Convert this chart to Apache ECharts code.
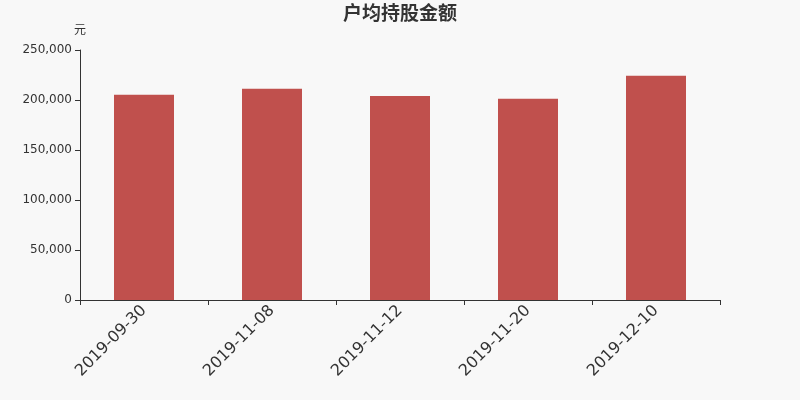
<!DOCTYPE html>
<html>
<head>
<meta charset="utf-8">
<script src="https://cdn.jsdelivr.net/npm/echarts@6/dist/echarts.min.js"></script>
<style>
html, body { margin: 0; padding: 0; background: #f8f8f8; }
#main { width: 800px; height: 400px; }
</style>
</head>
<body>
<div id="main"></div>
<script>
var titleText = '户均持股金额';
var unitName = '元';
var categories = ['2019-09-30', '2019-11-08', '2019-11-12', '2019-11-20', '2019-12-10'];
var values = [205300, 211300, 204000, 201300, 224300];

var myChart = echarts.init(document.getElementById('main'));

var option = {
    backgroundColor: '#f8f8f8',
    title: {
        text: titleText,
        left: 'center',
        top: 0,
        padding: [3, 5],
        textStyle: {
            color: '#333',
            fontSize: 19,
            fontWeight: 'bold',
            fontFamily: 'Noto Sans CJK SC'
        }
    },
    grid: {
        top: 50,
        bottom: 100,
        left: 80,
        right: 80
    },
    xAxis: {
        type: 'category',
        data: categories,
        axisLabel: {
            rotate: 45,
            color: '#333',
            fontSize: 16,
            fontFamily: 'DejaVu Sans',
            interval: 0
        },
        axisLine: {
            lineStyle: { color: '#333' }
        },
        axisTick: { show: true }
    },
    yAxis: {
        type: 'value',
        name: unitName,
        nameGap: 15,
        nameTextStyle: {
            color: '#333',
            fontSize: 12,
            fontFamily: 'Noto Sans CJK SC'
        },
        min: 0,
        max: 250000,
        interval: 50000,
        axisLabel: {
            color: '#333',
            fontSize: 12,
            fontFamily: 'DejaVu Sans',
            formatter: function (value) {
                return value.toLocaleString('en-US');
            }
        },
        axisLine: {
            show: true,
            lineStyle: { color: '#333' }
        },
        axisTick: { show: true },
        splitLine: { show: false }
    },
    series: [{
        type: 'bar',
        data: values,
        barWidth: 60,
        itemStyle: { color: '#c0504d' }
    }]
};

myChart.setOption(option);
</script>
</body>
</html>
